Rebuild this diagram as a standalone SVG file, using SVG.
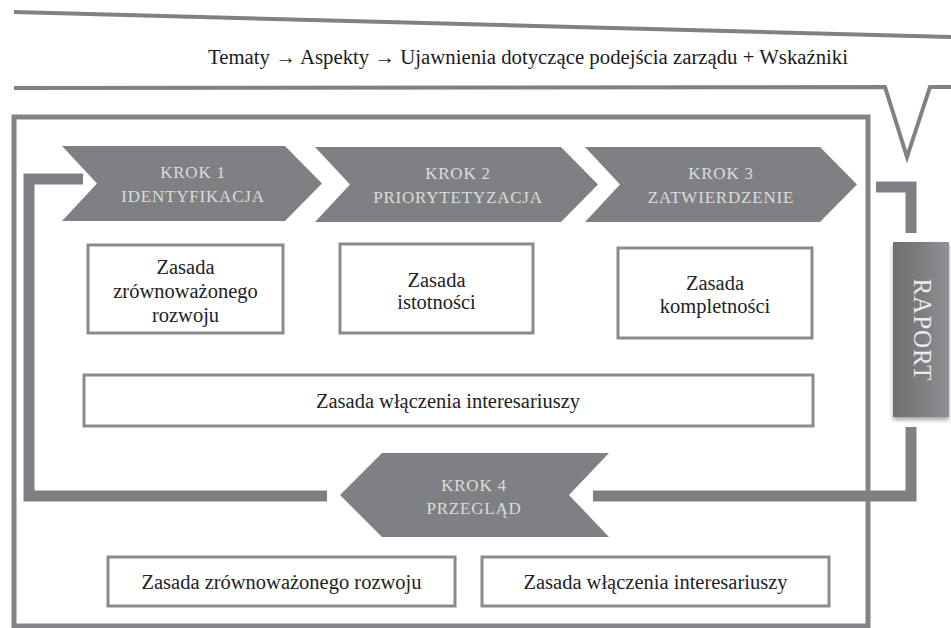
<svg xmlns="http://www.w3.org/2000/svg" width="951" height="628" viewBox="0 0 951 628">
  <defs>
    <linearGradient id="rapGrad" x1="0" y1="0" x2="1" y2="0">
      <stop offset="0" stop-color="#6f7073"/>
      <stop offset="0.5" stop-color="#7c7d80"/>
      <stop offset="1" stop-color="#909194"/>
    </linearGradient>
    <filter id="shadow" x="-20%" y="-10%" width="140%" height="130%">
      <feGaussianBlur in="SourceAlpha" stdDeviation="2"/>
      <feOffset dx="0" dy="3" result="b"/>
      <feComponentTransfer><feFuncA type="linear" slope="0.35"/></feComponentTransfer>
      <feMerge><feMergeNode/><feMergeNode in="SourceGraphic"/></feMerge>
    </filter>
  </defs>
  <style>
    .line { fill: none; stroke: #808184; }
    .conn { fill: none; stroke: #7f8083; stroke-width: 11; stroke-linejoin: miter; stroke-linecap: butt; }
    .chev { fill: #7f8083; }
    .chevtxt { font-family: "Liberation Serif", "Times New Roman", serif; font-size: 17px; fill: #dcdcdc; text-anchor: middle; letter-spacing: 0.8px; }
    .box { fill: #ffffff; stroke: #8a8b8d; stroke-width: 3; }
    .boxtxt { font-family: "Liberation Serif", "Times New Roman", serif; font-size: 20.5px; fill: #222222; text-anchor: middle; }
    .head { font-family: "Liberation Serif", "Times New Roman", serif; font-size: 20px; fill: #1a1a1a; }
    .rap { font-family: "Liberation Serif", "Times New Roman", serif; font-size: 25px; fill: #ececec; text-anchor: middle; letter-spacing: 1px; }
  </style>
  <rect width="951" height="628" fill="#ffffff"/>

  <g id="header">
    <line class="line" x1="14" y1="12" x2="951" y2="37" stroke-width="4"/>
    <text class="head" x="208" y="64" textLength="640" lengthAdjust="spacingAndGlyphs">Tematy → Aspekty → Ujawnienia dotyczące podejścia zarządu + Wskaźniki</text>
    <polyline class="line" points="14,88 885,87 907,157 930,87 951,87" stroke-width="4" stroke-linejoin="miter"/>
  </g>

  <g id="frame">
    <rect x="14" y="117" width="854" height="509" fill="none" stroke="#838487" stroke-width="5"/>
  </g>

  <g id="connectors">
    <path class="conn" d="M 83 179 H 29 V 496 H 327"/>
    <path class="conn" d="M 876 187 H 911 V 233"/>
    <path class="conn" d="M 911 427 V 496 H 593"/>
  </g>

  <g id="krok1">
    <polygon class="chev" points="62,146 285,146 322,183.5 285,221 62,221 97,183.5"/>
    <text class="chevtxt" x="193" y="178">KROK 1</text>
    <text class="chevtxt" x="193" y="202">IDENTYFIKACJA</text>
  </g>
  <g id="krok2">
    <polygon class="chev" points="315,147 561,147 598,184.5 561,222 315,222 350,184.5"/>
    <text class="chevtxt" x="458" y="179">KROK 2</text>
    <text class="chevtxt" x="458" y="203">PRIORYTETYZACJA</text>
  </g>
  <g id="krok3">
    <polygon class="chev" points="585,147 820,147 857,184.5 820,222 585,222 620,184.5"/>
    <text class="chevtxt" x="721" y="179">KROK 3</text>
    <text class="chevtxt" x="721" y="203">ZATWIERDZENIE</text>
  </g>
  <g id="krok4">
    <polygon class="chev" points="340,495 382,453 609,453 569,495 609,537 382,537"/>
    <text class="chevtxt" x="474" y="491">KROK 4</text>
    <text class="chevtxt" x="474" y="514">PRZEGLĄD</text>
  </g>

  <g id="zasada-zrownowazonego-1">
    <rect class="box" x="88" y="245" width="195" height="88"/>
    <text class="boxtxt" x="185.5" y="274">Zasada</text>
    <text class="boxtxt" x="185.5" y="298">zrównoważonego</text>
    <text class="boxtxt" x="185.5" y="322">rozwoju</text>
  </g>
  <g id="zasada-istotnosci">
    <rect class="box" x="340" y="244" width="193" height="89"/>
    <text class="boxtxt" x="436.5" y="287">Zasada</text>
    <text class="boxtxt" x="436.5" y="309">istotności</text>
  </g>
  <g id="zasada-kompletnosci">
    <rect class="box" x="618" y="248" width="194" height="90"/>
    <text class="boxtxt" x="715" y="290">Zasada</text>
    <text class="boxtxt" x="715" y="313">kompletności</text>
  </g>
  <g id="zasada-wlaczenia-1">
    <rect class="box" x="84" y="375" width="729" height="51"/>
    <text class="boxtxt" x="448" y="408">Zasada włączenia interesariuszy</text>
  </g>
  <g id="zasada-zrownowazonego-2">
    <rect class="box" x="108" y="557" width="347" height="49"/>
    <text class="boxtxt" x="281.5" y="589">Zasada zrównoważonego rozwoju</text>
  </g>
  <g id="zasada-wlaczenia-2">
    <rect class="box" x="482" y="557" width="347" height="49"/>
    <text class="boxtxt" x="655.5" y="589">Zasada włączenia interesariuszy</text>
  </g>

  <g id="raport">
    <rect x="893" y="242" width="56" height="175" fill="url(#rapGrad)" filter="url(#shadow)"/>
    <text class="rap" x="922" y="338" transform="rotate(90 922 330)">RAPORT</text>
  </g>
</svg>
